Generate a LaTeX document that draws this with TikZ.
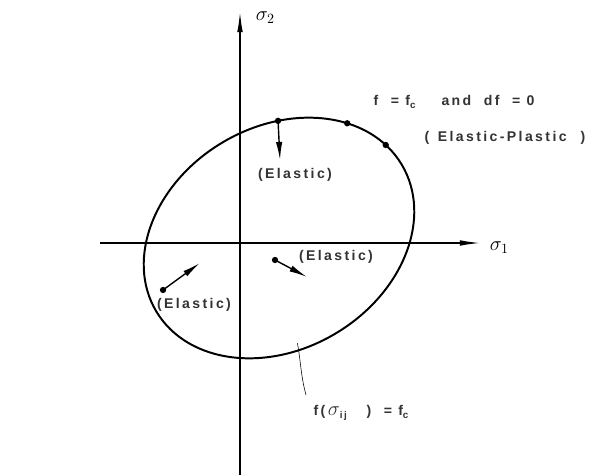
\documentclass[tikz,border=0pt]{standalone}
\usepackage{fontspec}
\setmainfont{Liberation Sans}[LetterSpace=17]
\usetikzlibrary{arrows.meta}

\begin{document}
\begin{tikzpicture}[x=0.025cm, y=0.025cm, font=\normalsize\bfseries,
  axis/.style={line width=0.9pt, -{Latex[length=5mm, width=1.4mm]}},
  curve/.style={line width=1.4pt},
  dot/.style={circle, fill, inner sep=0pt, minimum size=4.5pt},
  mv/.style={line width=1pt, -{Latex[length=4.5mm, width=1.6mm]}},
  lbl/.style={inner sep=1pt, text=black!80}]
\useasboundingbox (0,0) rectangle (600,475);
\coordinate (xs) at (100,232);
\coordinate (xe) at (480,232);
\coordinate (ys) at (240,0);
\coordinate (ye) at (240,463);
\draw[axis] (xs) -- (xe);
\draw[axis] (ys) -- (ye);
\node[anchor=west, font=\Large] (s1) at (485,227) {$\sigma_1$};
\node[anchor=west, font=\Large] (s2) at (251,457) {$\sigma_2$};
\begin{scope}[shift={(279,237)}, rotate=31]
\draw[curve] (0,0) ellipse (143 and 111);
\node[dot] (p1) at (65.4:143 and 111) {};
\node[dot] (p2) at (34.7:143 and 111) {};
\node[dot] (p3) at (12.9:143 and 111) {};
\coordinate (tk) at (253.6:136 and 104);
\end{scope}
\node[dot] (q1) at (275,215) {};
\node[dot] (q2) at (163,185) {};
\coordinate (e1) at (280,315);
\coordinate (e2) at (307,198);
\coordinate (e3) at (200,212);
\draw[mv] (p1.center) -- (e1);
\draw[mv] (q1.center) -- (e2);
\draw[mv] (q2.center) -- (e3);
\node[lbl] (el1) at (295,300) {(Elastic)};
\node[lbl] (el2) at (336,218) {(Elastic)};
\node[lbl] (el3) at (194,170) {(Elastic)};
\node[lbl, anchor=west] (fc) at (372,373) {f\ \ =\ f\textsubscript{c}\ \ \ \ and\ \ df\ \ =\ 0};
\node[lbl, anchor=west] (ep) at (423,337) {(\hspace{6pt}Elastic-Plastic\hspace{10pt})};
\node[lbl, anchor=west] (fl) at (312,62) {f(\,{\Large$\sigma$}\textsubscript{ij}\ \ \ )\ \ =\ f\textsubscript{c}};
\coordinate (fe) at (306,80);
\draw[thin] (tk) to[out=-80, in=105] (fe);
\end{tikzpicture}
\end{document}
